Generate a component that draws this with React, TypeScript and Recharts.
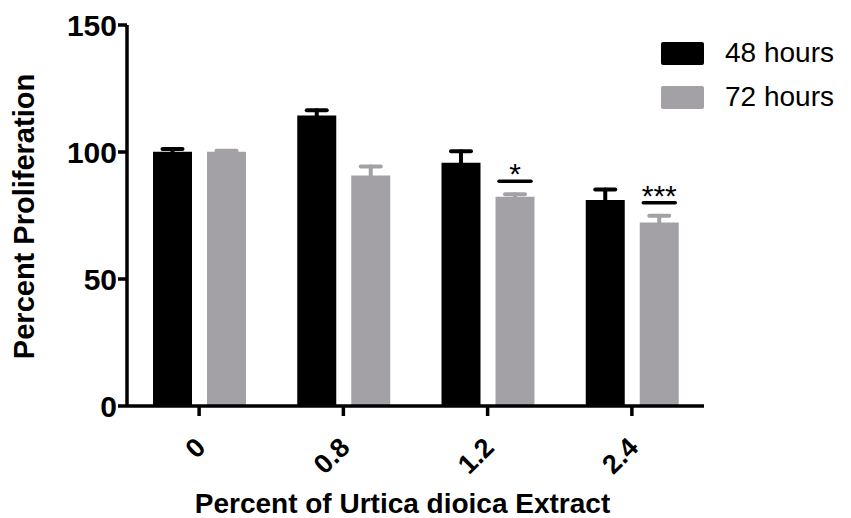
import { BarChart, Bar, XAxis, YAxis, ErrorBar, LabelList } from "recharts";

const doses = ["0", "0.8", "1.2", "2.4"];
const mean48 = [100.1, 114.4, 95.8, 81.1];
const sem48 = [1.1, 2.0, 4.5, 4.1];
const mean72 = [100.1, 90.7, 82.4, 72.2];
const sem72 = [0.4, 3.6, 1.0, 2.7];
const stars72 = ["", "", "*", "***"];
const yTicks = [0, 50, 100, 150];

const BLACK = "#000000";
const GREY = "#a3a1a6";
const FONT = "'Liberation Sans', Arial, sans-serif";

const series = [
  { key: "h48", err: "e48", name: "48 hours", color: BLACK },
  { key: "h72", err: "e72", name: "72 hours", color: GREY },
];

const data = doses.map((dose, i) => ({
  dose,
  h48: mean48[i],
  e48: sem48[i],
  h72: mean72[i],
  e72: sem72[i],
}));

function DoseTick({ x, y, payload }: any) {
  const tx = x + 8;
  const ty = y + 31;
  return (
    <text
      x={tx}
      y={ty}
      transform={`rotate(-45 ${tx} ${ty})`}
      textAnchor="end"
      fontFamily={FONT}
      fontWeight="bold"
      fontSize={27}
      fill={BLACK}
    >
      {payload.value}
    </text>
  );
}

function YTitle(props: any) {
  const vb = props.viewBox;
  const cx = vb.x + 24;
  const cy = vb.y + vb.height / 2 + 1;
  return (
    <text
      x={cx}
      y={cy}
      transform={`rotate(-90 ${cx} ${cy})`}
      textAnchor="middle"
      dominantBaseline="central"
      fontFamily={FONT}
      fontWeight="bold"
      fontSize={29}
      fill={BLACK}
    >
      Percent Proliferation
    </text>
  );
}

function XTitle(props: any) {
  const vb = props.viewBox;
  return (
    <text
      x={vb.x + vb.width / 2 - 13}
      y={vb.y + 107}
      textAnchor="middle"
      fontFamily={FONT}
      fontWeight="bold"
      fontSize={28}
      fill={BLACK}
    >
      Percent of Urtica dioica Extract
    </text>
  );
}

// significance bar + asterisks above the 72h error cap
function SigMark(props: any) {
  const vb = props.viewBox ?? props;
  const i = doses.indexOf(String(props.value));
  if (i < 0 || !stars72[i]) return null;
  const pxPerUnit = vb.height / mean72[i];
  const capY = vb.y - sem72[i] * pxPerUnit;
  const lineY = capY - 13;
  const cx = vb.x + vb.width / 2;
  return (
    <g>
      <line
        x1={cx - 16}
        x2={cx + 16}
        y1={lineY}
        y2={lineY}
        stroke={BLACK}
        strokeWidth={3.5}
        strokeLinecap="round"
      />
      <text
        x={cx}
        y={lineY + 3}
        textAnchor="middle"
        fontFamily={FONT}
        fontSize={30}
        fill={BLACK}
      >
        {stars72[i]}
      </text>
    </g>
  );
}

export default function App() {
  return (
    <div style={{ position: "absolute", left: 0, top: 0, width: 851, height: 518, background: "#fff" }}>
      <BarChart
        width={851}
        height={518}
        data={data}
        margin={{ top: 25, right: 147, bottom: 0, left: 0 }}
        barSize={39}
        barGap={15}
      >
        <XAxis
          dataKey="dose"
          height={112}
          stroke={BLACK}
          axisLine={{ strokeWidth: 3.5 }}
          tickLine={{ strokeWidth: 3.5 }}
          tickSize={10}
          tickMargin={2}
          tick={<DoseTick />}
          label={<XTitle />}
        />
        <YAxis
          width={127}
          domain={[0, 150]}
          ticks={yTicks}
          stroke={BLACK}
          axisLine={{ strokeWidth: 3.5 }}
          tickLine={{ strokeWidth: 3.5 }}
          tickSize={9}
          tickMargin={1}
          tick={{ fontFamily: FONT, fontWeight: "bold", fontSize: 30, fill: BLACK }}
          label={<YTitle />}
        />
        {series.map((s) => (
          <Bar key={s.key} dataKey={s.key} name={s.name} fill={s.color} isAnimationActive={false}>
            <ErrorBar
              dataKey={s.err}
              direction="y"
              width={10}
              stroke={s.color}
              strokeWidth={4}
              strokeLinecap="round"
            />
            {s.key === "h72" && <LabelList dataKey="dose" content={SigMark} />}
          </Bar>
        ))}
      </BarChart>

      <div style={{ position: "absolute", left: 661, top: 31, fontFamily: FONT, fontSize: 28, color: BLACK }}>
        {series.map((s) => (
          <div key={s.key} style={{ display: "flex", alignItems: "center", height: 44 }}>
            <span style={{ display: "inline-block", width: 43, height: 23, background: s.color, borderRadius: 2, marginRight: 21 }} />
            <span>{s.name}</span>
          </div>
        ))}
      </div>
    </div>
  );
}
